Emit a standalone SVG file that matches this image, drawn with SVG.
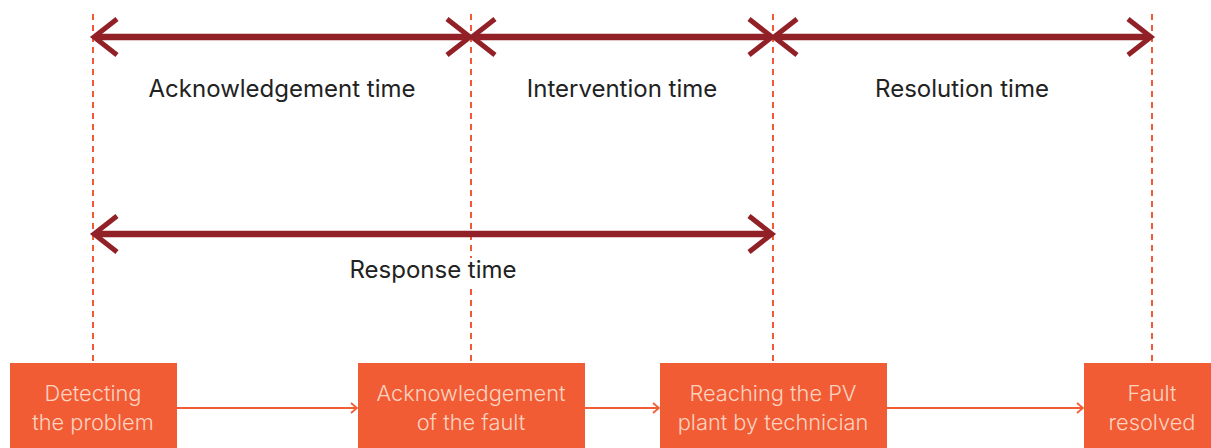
<svg xmlns="http://www.w3.org/2000/svg" width="1211" height="448" viewBox="0 0 1211 448">
<defs>
<style>
.guide{stroke:#f05a36;stroke-width:2;stroke-dasharray:6,5;fill:none}
.span{stroke:#912127;stroke-width:6.5;fill:none}
.head{stroke:#912127;stroke-width:5;fill:none}
.lbl{font-family:Inter,"Liberation Sans",sans-serif;font-size:24px;fill:#222;text-anchor:middle}
.box{fill:#f25c35}
.btxt{font-family:Inter,"Liberation Sans",sans-serif;font-size:21.8px;font-weight:300;fill:#fbd3c0;text-anchor:middle}
.flow{stroke:#f25c35;stroke-width:2;fill:none}
</style>
<marker id="fa" viewBox="0 0 12 12" refX="11" refY="6" markerWidth="12" markerHeight="12" markerUnits="userSpaceOnUse" orient="auto">
<path d="M5,1 L11,6 L5,11" fill="none" stroke="#f25c35" stroke-width="1.8"/>
</marker>
</defs>
<rect width="1211" height="448" fill="#fff"/>
<g id="guides">
<line class="guide" x1="93" y1="14" x2="93" y2="363"/>
<line class="guide" x1="471" y1="14" x2="471" y2="363"/>
<line class="guide" x1="773" y1="14" x2="773" y2="363"/>
<line class="guide" x1="1152" y1="14" x2="1152" y2="363"/>
</g>
<g id="connectors">
<line class="span" x1="95" y1="37" x2="469" y2="37"/>
<path class="head" d="M117,19 L94,37 L117,55"/>
<path class="head" d="M447,19 L470,37 L447,55"/>
<line class="span" x1="473" y1="37" x2="771" y2="37"/>
<path class="head" d="M495,19 L472,37 L495,55"/>
<path class="head" d="M749,19 L772,37 L749,55"/>
<line class="span" x1="775" y1="37" x2="1150" y2="37"/>
<path class="head" d="M797,19 L774,37 L797,55"/>
<path class="head" d="M1128,19 L1151,37 L1128,55"/>
<line class="span" x1="95" y1="234" x2="771" y2="234"/>
<path class="head" d="M117,216 L94,234 L117,252"/>
<path class="head" d="M749,216 L772,234 L749,252"/>
<line class="flow" x1="177" y1="408" x2="357" y2="408" marker-end="url(#fa)"/>
<line class="flow" x1="585" y1="408" x2="659" y2="408" marker-end="url(#fa)"/>
<line class="flow" x1="887" y1="408" x2="1083" y2="408" marker-end="url(#fa)"/>
</g>
<g id="labels">
<text class="lbl" x="282" y="97">Acknowledgement time</text>
<text class="lbl" x="622" y="97">Intervention time</text>
<text class="lbl" x="962" y="97">Resolution time</text>
<rect x="462" y="258" width="18" height="26" fill="#fff"/>
<text class="lbl" x="433" y="278">Response time</text>
</g>
<g id="n1">
<rect class="box" x="10" y="363" width="167" height="85"/>
<text class="btxt" x="93" y="401">Detecting</text>
<text class="btxt" x="93" y="430">the problem</text>
</g>
<g id="n2">
<rect class="box" x="358" y="363" width="227" height="85"/>
<text class="btxt" x="471" y="401">Acknowledgement</text>
<text class="btxt" x="471" y="430">of the fault</text>
</g>
<g id="n3">
<rect class="box" x="660" y="363" width="227" height="85"/>
<text class="btxt" x="773" y="401">Reaching the PV</text>
<text class="btxt" x="773" y="430">plant by technician</text>
</g>
<g id="n4">
<rect class="box" x="1084" y="363" width="127" height="85"/>
<text class="btxt" x="1152" y="401">Fault</text>
<text class="btxt" x="1152" y="430">resolved</text>
</g>
</svg>
